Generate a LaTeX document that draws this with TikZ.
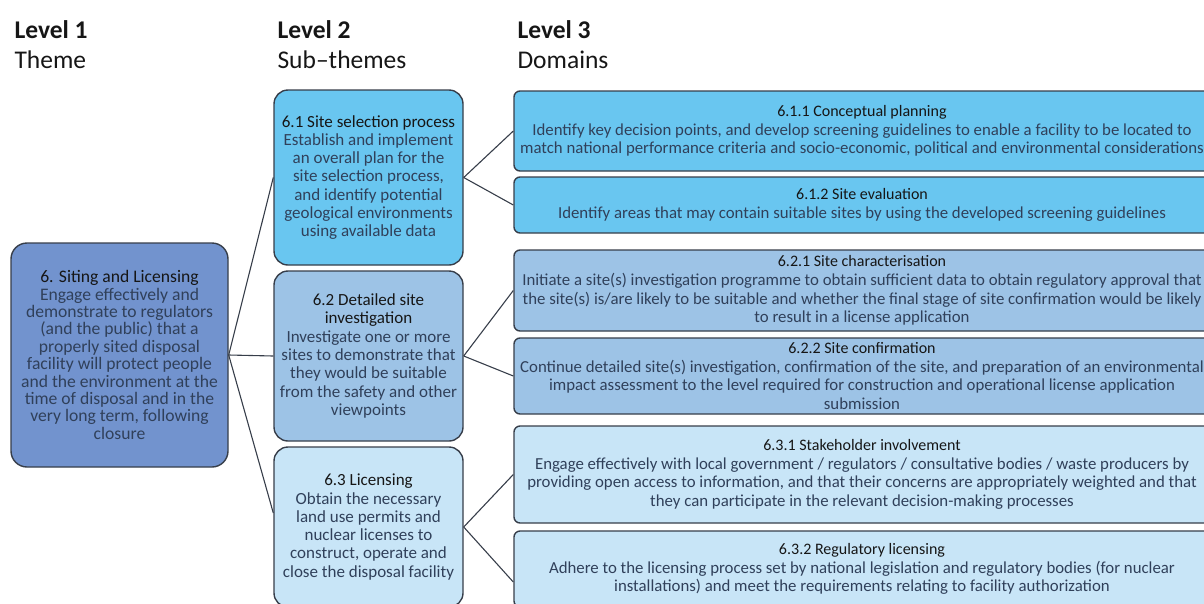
\documentclass[tikz,border=0pt]{standalone}
\usepackage{fontspec}
\setmainfont{Carlito}
\definecolor{themefill}{RGB}{114,147,206}
\definecolor{selfill}{RGB}{105,198,240}
\definecolor{invfill}{RGB}{157,195,230}
\definecolor{licfill}{RGB}{200,229,247}
\definecolor{edge}{RGB}{55,62,74}
\definecolor{bodytxt}{RGB}{48,64,90}
\definecolor{headtxt}{RGB}{22,22,22}
\newcommand{\hd}[1]{{\color{headtxt}#1}}
\newcommand{\dhd}[1]{{\color{headtxt}\fontsize{16}{18.7}\selectfont#1}}
\begin{document}
\begin{tikzpicture}[x=1pt,y=-1pt,
  box/.style={draw=edge,line width=1.4pt,align=center,text=bodytxt,inner sep=2pt},
  themebox/.style={box,fill=themefill,rounded corners=16pt,minimum width=217pt,minimum height=224pt,font=\fontsize{17.6}{17.4}\selectfont},
  subbox/.style={box,rounded corners=14pt,minimum width=189pt,font=\fontsize{17}{18.3}\selectfont},
  dombox/.style={box,rounded corners=6pt,minimum width=696pt,font=\fontsize{16.8}{18.7}\selectfont},
  link/.style={draw=edge,line width=1.1pt},
  lvl/.style={anchor=base west,text=headtxt,font=\fontsize{25.5}{27}\selectfont},
  lvlb/.style={lvl,font=\bfseries\fontsize{25.5}{27}\selectfont}]
\useasboundingbox (0,0) rectangle (1204,603);
% column headings
\node[lvlb] (lv1) at (11,38) {Level 1};
\node[lvl] (th1) at (11,68) {Theme};
\node[lvlb] (lv2) at (274,38) {Level 2};
\node[lvl] (th2) at (274,68) {Sub--themes};
\node[lvlb] (lv3) at (514,38) {Level 3};
\node[lvl] (th3) at (514,68) {Domains};
% level 1
\node[themebox] (theme) at (119.5,355) {\hd{6. Siting and Licensing}\\Engage effectively and\\demonstrate to regulators\\(and the public) that a\\properly sited disposal\\facility will protect people\\and the environment at the\\time of disposal and in the\\very long term, following\\closure};
% level 2
\node[subbox,fill=selfill,minimum height=175pt] (s61) at (368.5,177.5) {\hd{6.1 Site selection process}\\Establish and implement\\an overall plan for the\\site selection process,\\and identify potential\\geological environments\\using available data};
\node[subbox,fill=invfill,minimum height=170pt] (s62) at (368.5,356) {\hd{6.2 Detailed site}\\\hd{investigation}\\Investigate one or more\\sites to demonstrate that\\they would be suitable\\from the safety and other\\viewpoints};
\node[subbox,fill=licfill,minimum height=160pt] (s63) at (368.5,527) {\hd{6.3 Licensing}\\Obtain the necessary\\land use permits and\\nuclear licenses to\\construct, operate and\\close the disposal facility};
% level 3
\node[dombox,fill=selfill,minimum height=80pt] (d611) at (862,131) {\dhd{6.1.1 Conceptual planning}\\Identify key decision points, and develop screening guidelines to enable a facility to be located to\\match national performance criteria and socio-economic, political and environmental considerations};
\node[dombox,fill=selfill,minimum height=56pt] (d612) at (862,205) {\dhd{6.1.2 Site evaluation}\\Identify areas that may contain suitable sites by using the developed screening guidelines};
\node[dombox,fill=invfill,minimum height=81pt] (d621) at (862,290.5) {\dhd{6.2.1 Site characterisation}\\Initiate a site(s) investigation programme to obtain sufficient data to obtain regulatory approval that\\the site(s) is/are likely to be suitable and whether the final stage of site confirmation would be likely\\to result in a license application};
\node[dombox,fill=invfill,minimum height=76pt] (d622) at (862,376) {\dhd{6.2.2 Site confirmation}\\Continue detailed site(s) investigation, confirmation of the site, and preparation of an environmental\\impact assessment to the level required for construction and operational license application\\submission};
\node[dombox,fill=licfill,minimum height=97pt] (d631) at (862,474.5) {\dhd{6.3.1 Stakeholder involvement}\\Engage effectively with local government / regulators / consultative bodies / waste producers by\\providing open access to information, and that their concerns are appropriately weighted and that\\they can participate in the relevant decision-making processes};
\node[dombox,fill=licfill,minimum height=76pt] (d632) at (862,569) {\dhd{6.3.2 Regulatory licensing}\\Adhere to the licensing process set by national legislation and regulatory bodies (for nuclear\\installations) and meet the requirements relating to facility authorization};
% connectors
\foreach \a/\b in {theme.east/s61.west,theme.east/s62.west,s61.east/d611.west,s61.east/d612.west,s62.east/d621.west,s62.east/d622.west,s63.east/d631.west}
  \draw[link] (\a) -- (\b);
\draw[link] (theme.east) -- ([yshift=14pt]s63.west);
\draw[link] (s63.east) -- ([yshift=-13pt]d632.west);
\end{tikzpicture}
\end{document}
